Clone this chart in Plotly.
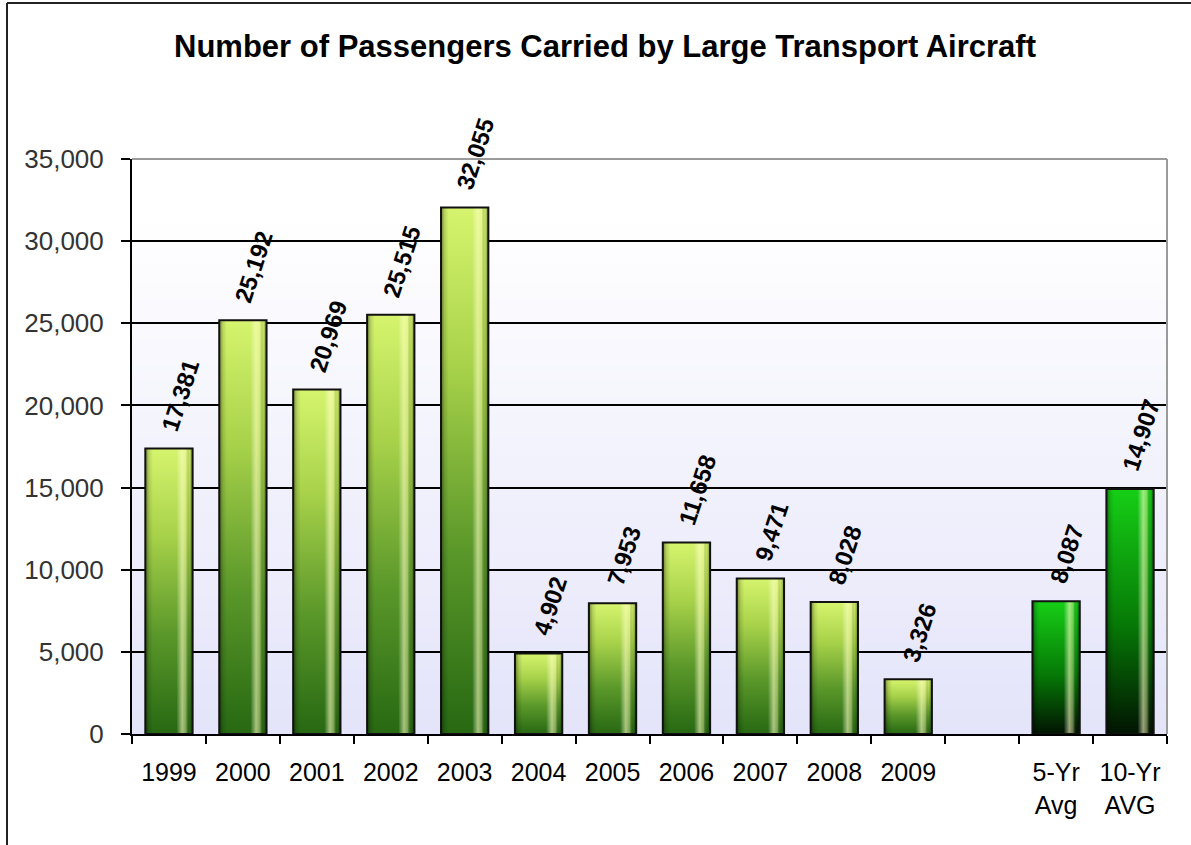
import plotly.graph_objects as go

# Passenger counts per year plus the two averages (blank slot separates them)
categories = ["1999", "2000", "2001", "2002", "2003", "2004", "2005", "2006",
              "2007", "2008", "2009", "", "5-Yr<br>Avg", "10-Yr<br>AVG"]
passengers = [17381, 25192, 20969, 25515, 32055, 4902, 7953, 11658,
              9471, 8028, 3326, None, 8087, 14907]
is_average = [False] * 11 + [False, True, True]

y_ticks = [0, 5000, 10000, 15000, 20000, 25000, 30000, 35000]

# layout geometry (pixels)
W, H = 1191, 845
ML, MR, MT, MB = 132, 24, 159, 111
PW, PH = W - ML - MR, H - MT - MB

BAR_HALF = 0.32

year_scale = [[0.0, "#276812"], [0.35, "#5b982a"], [0.7, "#a8d24a"], [1.0, "#d6f46e"]]
avg_scale = [[0.0, "#021402"], [0.45, "#067a06"], [1.0, "#16cf16"]]
bevel_scale = [[0.0, "rgba(0,0,0,0.45)"], [0.08, "rgba(0,0,0,0.12)"],
               [0.16, "rgba(0,0,0,0)"], [0.66, "rgba(255,255,255,0)"],
               [0.78, "rgba(255,255,190,0.6)"], [0.86, "rgba(255,255,190,0.38)"],
               [0.93, "rgba(0,0,0,0.05)"], [1.0, "rgba(0,0,0,0.4)"]]

fig = go.Figure()

for i, v in enumerate(passengers):
    if v is None:
        continue
    x0, x1 = i - BAR_HALF, i + BAR_HALF
    xs = [x0, x1, x1, x0, x0]
    ys = [0, 0, v, v, 0]
    scale = avg_scale if is_average[i] else year_scale
    # body with vertical gradient
    fig.add_trace(go.Scatter(
        x=xs, y=ys, mode="lines", fill="toself", line=dict(width=0),
        fillgradient=dict(type="vertical", colorscale=scale),
        hoverinfo="skip", showlegend=False))
    # bevel shading across the bar
    fig.add_trace(go.Scatter(
        x=xs, y=ys, mode="lines", fill="toself", line=dict(width=0),
        fillgradient=dict(type="horizontal", colorscale=bevel_scale),
        hoverinfo="skip", showlegend=False))
    # outline
    fig.add_trace(go.Scatter(
        x=xs, y=ys, mode="lines", line=dict(color="#111111", width=2),
        hoverinfo="skip", showlegend=False))
    fig.add_annotation(
        x=i, y=v, text=f"<b>{v:,}</b>", showarrow=False, textangle=-72,
        xanchor="center", yanchor="bottom", xshift=11, yshift=12,
        font=dict(family="Liberation Sans, Arial, sans-serif", size=24, color="#000000"))

# plot-area background: white at top fading to lavender, as thin bands
shapes = []
n_bands = 70
top_c = (255, 255, 255)
bot_c = (228, 228, 250)
for k in range(n_bands):
    f0 = k / n_bands
    f1 = (k + 1) / n_bands
    t = min(1.0, (f0 + f1) / 2 / 0.9)
    c = tuple(round(bot_c[j] + (top_c[j] - bot_c[j]) * t) for j in range(3))
    shapes.append(dict(type="rect", xref="paper", yref="paper", layer="below",
                       x0=0, x1=1, y0=f0, y1=f1 + 0.002, line=dict(width=0),
                       fillcolor=f"rgb{c}"))

# grey top and right edges of the plot area
shapes.append(dict(type="line", xref="paper", yref="paper", x0=0, x1=1, y0=1, y1=1,
                   line=dict(color="#9a9a9a", width=2), layer="above"))
shapes.append(dict(type="line", xref="paper", yref="paper", x0=1, x1=1, y0=0, y1=1,
                   line=dict(color="#9a9a9a", width=2), layer="above"))

# outer frame
fx0 = (7 - ML) / PW
fx1 = (W + 5 - ML) / PW
fy_top = (H - MB - 3) / PH
fy_bot = (H - MB - H - 5) / PH
shapes.append(dict(type="line", xref="paper", yref="paper", x0=fx0, x1=fx0,
                   y0=fy_bot, y1=fy_top, line=dict(color="#222222", width=2)))
shapes.append(dict(type="line", xref="paper", yref="paper", x0=fx0, x1=fx1,
                   y0=fy_top, y1=fy_top, line=dict(color="#222222", width=2)))

fig.update_layout(
    width=W, height=H,
    margin=dict(l=ML, r=MR, t=MT, b=MB),
    paper_bgcolor="#ffffff", plot_bgcolor="#ffffff",
    title=dict(text="<b>Number of Passengers Carried by Large Transport Aircraft</b>",
               x=605 / W, xref="container", xanchor="center", y=1 - 46 / H, yanchor="middle",
               font=dict(family="Liberation Sans, Arial, sans-serif", size=31, color="#000000")),
    shapes=shapes,
    font=dict(family="Liberation Sans, Arial, sans-serif"),
)

fig.update_xaxes(
    range=[-0.5, len(categories) - 0.5],
    tickmode="array", tickvals=list(range(len(categories))), ticktext=categories,
    ticks="", showgrid=False, zeroline=False,
    showline=True, linecolor="#000000", linewidth=2,
    tickfont=dict(size=25, color="#000000"), ticklabelstandoff=15,
    minor=dict(tickmode="array", tickvals=[i - 0.5 for i in range(len(categories) + 1)],
               ticks="outside", ticklen=8, tickcolor="#000000", tickwidth=2, showgrid=False),
)

fig.update_yaxes(
    range=[0, 35000], tickmode="array", tickvals=y_ticks,
    ticktext=[f"{t:,}" for t in y_ticks],
    ticks="outside", ticklen=9, tickcolor="#000000", tickwidth=2,
    showgrid=True, gridcolor="#000000", gridwidth=1.5, zeroline=False,
    showline=True, linecolor="#000000", linewidth=2,
    tickfont=dict(size=26, color="#333333"), ticklabelstandoff=12,
)

fig.write_html("out.html")
